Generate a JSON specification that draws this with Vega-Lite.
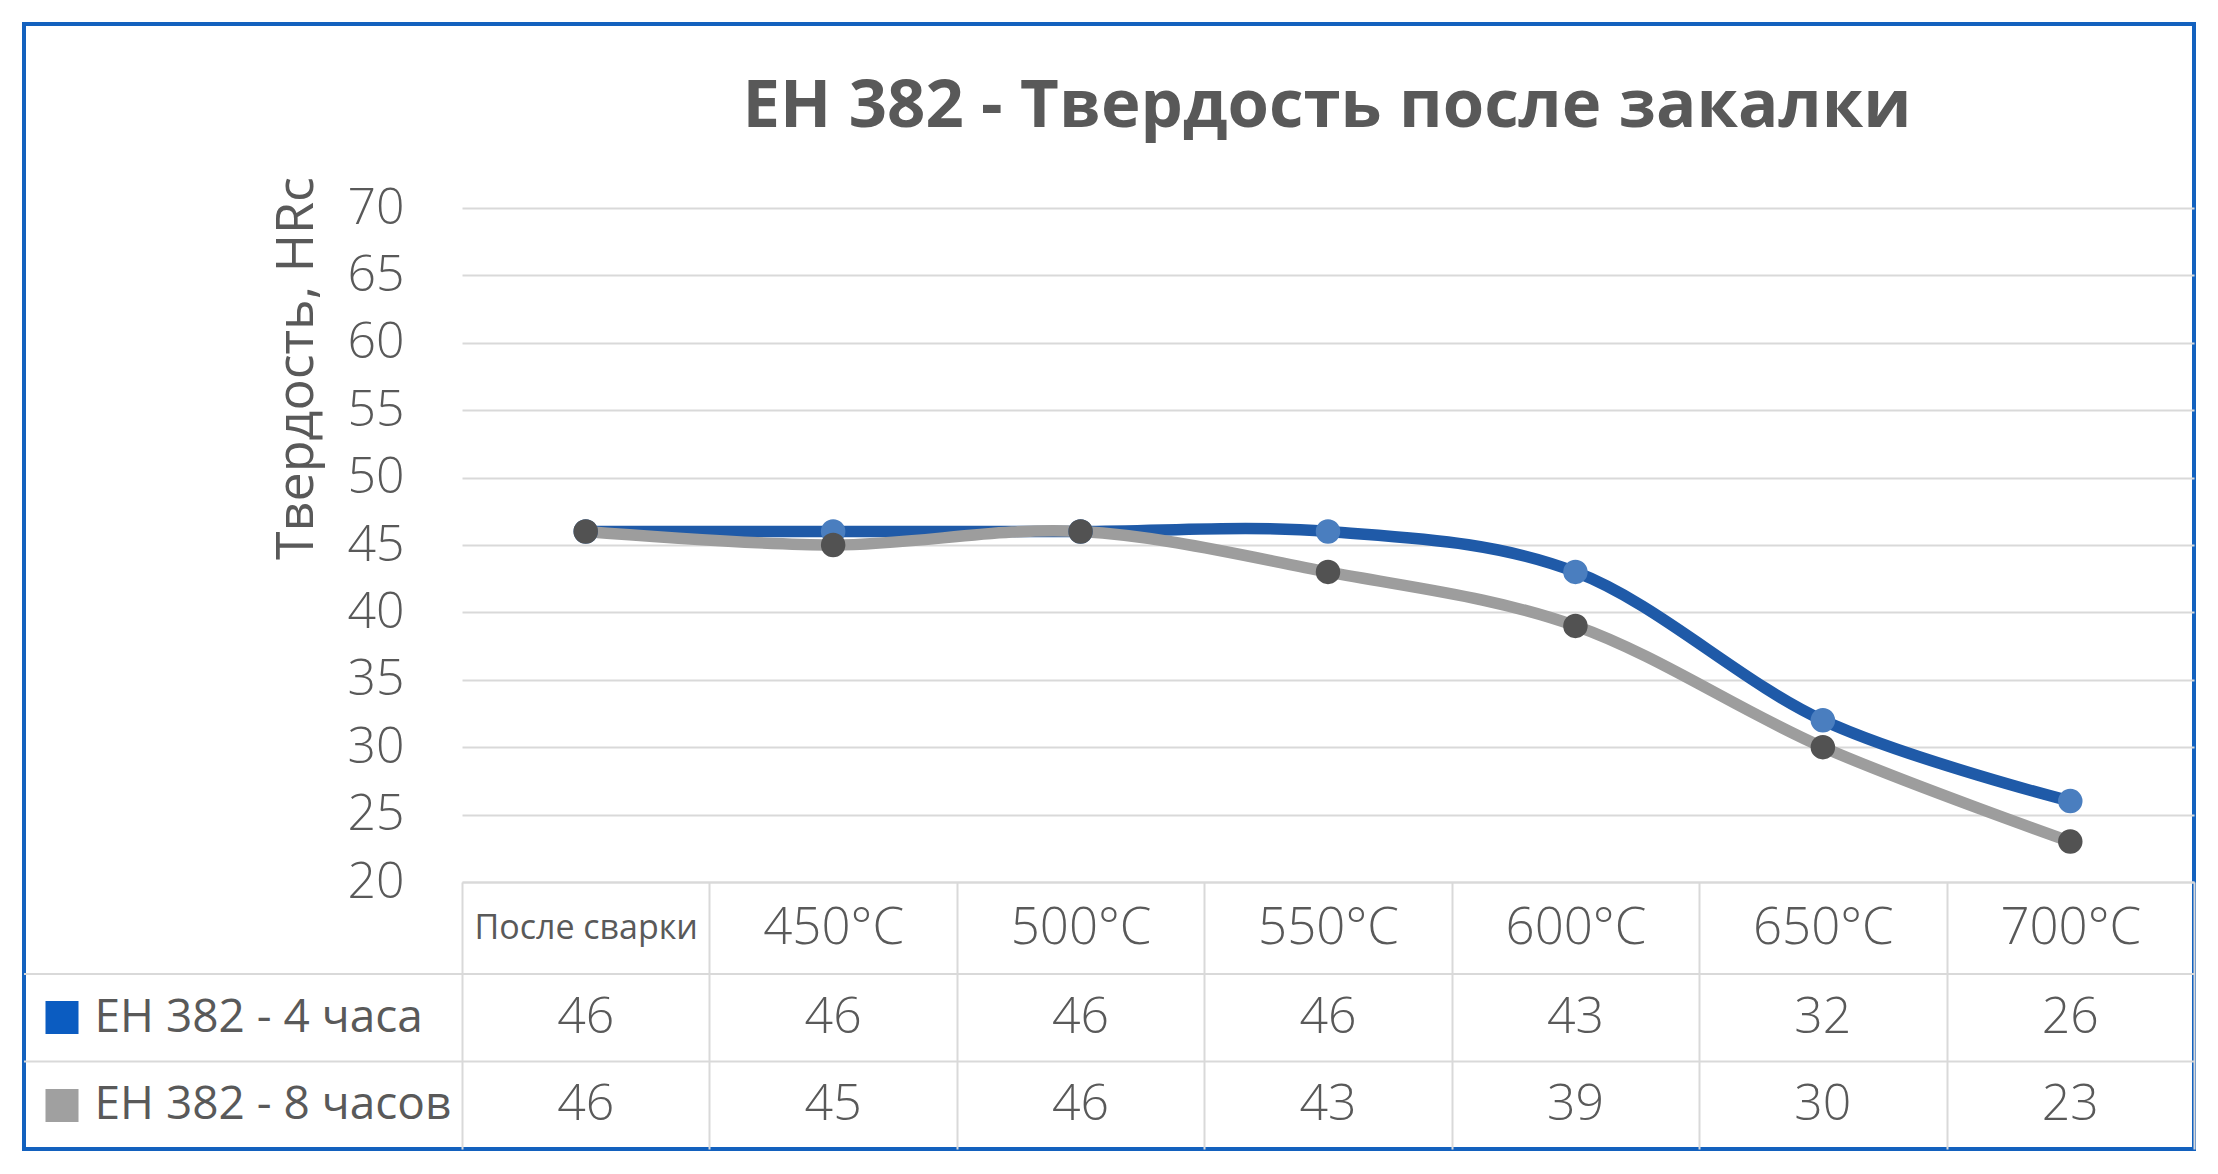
{
  "$schema": "https://vega.github.io/schema/vega-lite/v6.json",
  "description": "EH 382 hardness after tempering, with data table under the chart.",
  "width": 2170,
  "height": 1125,
  "autosize": "none",
  "padding": 24,
  "background": "white",
  "config": {
    "view": {"stroke": "#1361BE", "strokeWidth": 4},
    "font": "Open Sans",
    "axis": {"labelFont": "Open Sans", "titleFont": "Open Sans"}
  },
  "title": {
    "text": "EH 382 - Твердость после закалки",
    "font": "Open Sans",
    "fontSize": 67,
    "fontWeight": "bold",
    "color": "#595959",
    "anchor": "middle",
    "frame": "group",
    "baseline": "alphabetic",
    "offset": 0,
    "dx": 218,
    "dy": 170
  },
  "datasets": {
    "hardness": [
      {"cat": "После сварки", "series": "EH 382 - 4 часа", "value": 46},
      {"cat": "450°C", "series": "EH 382 - 4 часа", "value": 46},
      {"cat": "500°C", "series": "EH 382 - 4 часа", "value": 46},
      {"cat": "550°C", "series": "EH 382 - 4 часа", "value": 46},
      {"cat": "600°C", "series": "EH 382 - 4 часа", "value": 43},
      {"cat": "650°C", "series": "EH 382 - 4 часа", "value": 32},
      {"cat": "700°C", "series": "EH 382 - 4 часа", "value": 26},
      {"cat": "После сварки", "series": "EH 382 - 8 часов", "value": 46},
      {"cat": "450°C", "series": "EH 382 - 8 часов", "value": 45},
      {"cat": "500°C", "series": "EH 382 - 8 часов", "value": 46},
      {"cat": "550°C", "series": "EH 382 - 8 часов", "value": 43},
      {"cat": "600°C", "series": "EH 382 - 8 часов", "value": 39},
      {"cat": "650°C", "series": "EH 382 - 8 часов", "value": 30},
      {"cat": "700°C", "series": "EH 382 - 8 часов", "value": 23}
    ],
    "rows": [
      {"series": "EH 382 - 4 часа"},
      {"series": "EH 382 - 8 часов"}
    ]
  },
  "layer": [
    {
      "data": {"name": "hardness"},
      "encoding": {
        "x": {
          "field": "cat",
          "type": "nominal",
          "sort": null,
          "scale": {"type": "band", "range": [438, 2170], "paddingInner": 0, "paddingOuter": 0},
          "axis": {
            "orient": "bottom",
            "offset": -267,
            "title": null,
            "labelAngle": 0,
            "labelOverlap": false,
            "labelLimit": 400,
            "labelColor": "#595959",
            "labelFontWeight": {"condition": {"test": "datum.value === 'После сварки'", "value": 400}, "value": 300},
            "labelFontSize": {"condition": {"test": "datum.value === 'После сварки'", "value": 34}, "value": 51},
            "labelBaseline": "middle",
            "labelPadding": -221,
            "domain": true,
            "domainColor": "#D9D9D9",
            "domainWidth": 2,
            "ticks": true,
            "tickBand": "extent",
            "tickSize": 267,
            "tickColor": "#D9D9D9",
            "tickWidth": 2,
            "grid": false
          }
        },
        "y": {
          "field": "value",
          "type": "quantitative",
          "scale": {"domain": [20, 70], "range": [858, 184], "nice": false, "zero": false},
          "axis": {
            "orient": "left",
            "offset": -438,
            "values": [20, 25, 30, 35, 40, 45, 50, 55, 60, 65, 70],
            "domain": false,
            "ticks": false,
            "labelPadding": 58,
            "labelFontSize": 50,
            "labelFontWeight": 300,
            "labelColor": "#595959",
            "grid": true,
            "gridColor": "#D9D9D9",
            "gridWidth": 2,
            "title": "Твердость, HRc",
            "titleFontSize": 52,
            "titleFontWeight": "normal",
            "titleColor": "#595959",
            "titleAngle": -90,
            "titleAlign": "center",
            "titleBaseline": "middle",
            "titleX": -166,
            "titleY": 344
          }
        }
      },
      "layer": [
        {
          "mark": {"type": "line", "interpolate": "cardinal", "strokeWidth": 11.5, "strokeCap": "round"},
          "encoding": {
            "stroke": {
              "field": "series",
              "type": "nominal",
              "scale": {"domain": ["EH 382 - 4 часа", "EH 382 - 8 часов"], "range": ["#1F5AA8", "#9D9D9D"]},
              "legend": null
            }
          }
        },
        {
          "mark": {"type": "point", "filled": true, "shape": "circle", "opacity": 1, "size": 600},
          "encoding": {
            "fill": {
              "field": "series",
              "type": "nominal",
              "scale": {"domain": ["EH 382 - 4 часа", "EH 382 - 8 часов"], "range": ["#4A7EBF", "#525252"]},
              "legend": null
            }
          }
        }
      ]
    },
    {
      "encoding": {
        "y": {
          "field": "series",
          "type": "nominal",
          "sort": null,
          "scale": {"type": "band", "domain": ["EH 382 - 4 часа", "EH 382 - 8 часов"], "range": [950, 1125], "paddingInner": 0, "paddingOuter": 0},
          "axis": {
            "orient": "left",
            "offset": -54,
            "title": null,
            "domain": false,
            "grid": false,
            "ticks": true,
            "tickSize": 33,
            "tickWidth": 33,
            "tickCap": "butt",
            "tickColor": {"condition": {"test": "datum.value === 'EH 382 - 4 часа'", "value": "#0B5CC1"}, "value": "#A0A0A0"},
            "labelAlign": "left",
            "labelBaseline": "middle",
            "labelPadding": -49,
            "labelFontSize": 46,
            "labelColor": "#595959",
            "labelLimit": 400
          }
        }
      },
      "layer": [
        {
          "data": {"name": "rows"},
          "mark": {"type": "rule", "color": "#D9D9D9", "strokeWidth": 2},
          "encoding": {"y": {"field": "series", "type": "nominal", "sort": null, "bandPosition": 0}}
        },
        {
          "data": {"name": "hardness"},
          "mark": {"type": "text", "fontSize": 50, "fontWeight": 300, "color": "#595959", "baseline": "middle", "align": "center"},
          "encoding": {
            "x": {"field": "cat", "type": "nominal", "sort": null},
            "text": {"field": "value", "type": "quantitative"}
          }
        }
      ]
    }
  ],
  "resolve": {"scale": {"y": "independent"}, "axis": {"y": "independent"}}
}
